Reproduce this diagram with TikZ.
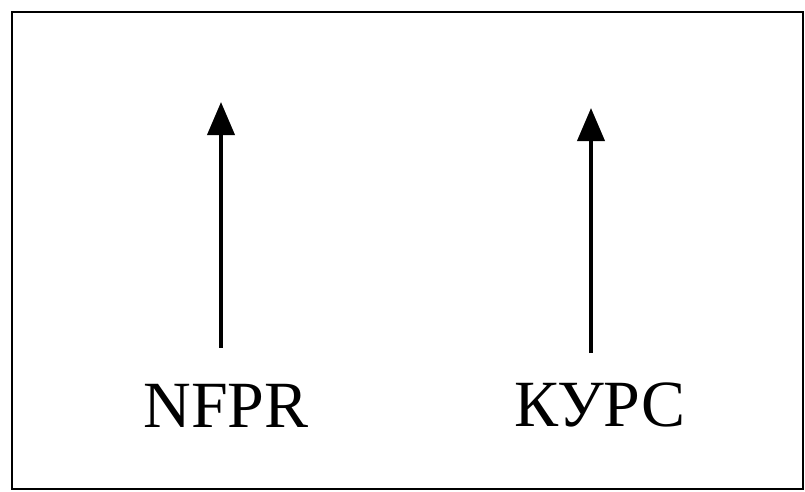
\documentclass[tikz,border=0pt]{standalone}
\usepackage{fontspec}
\setmainfont{Liberation Serif}
\usetikzlibrary{arrows.meta}

\begin{document}
\begin{tikzpicture}[x=1pt, y=-1pt, >={Triangle[length=33pt, width=27pt]},
    lbl/.style={font=\fontsize{66}{70}\selectfont, inner sep=0pt, anchor=base},
    uparrow/.style={->, line width=4pt}]

    \useasboundingbox (0,0) rectangle (805,491);

    % --- FRAME ---
    \draw[line width=2.5pt] (12,12) rectangle (803,489);

    % Labels
    \node[lbl] (nfpr) at (226,427) {NFPR};
    \node[lbl] (kurs) at (600,426) {КУРС};

    % Arrow tips
    \coordinate (nfprtip) at (221,102);
    \coordinate (kurstip) at (591,108);

    % --- ARROWS ---
    \draw[uparrow, shorten <=36pt] (nfpr.north -| nfprtip) -- (nfprtip);
    \draw[uparrow, shorten <=29pt] (kurs.north -| kurstip) -- (kurstip);

\end{tikzpicture}
\end{document}
